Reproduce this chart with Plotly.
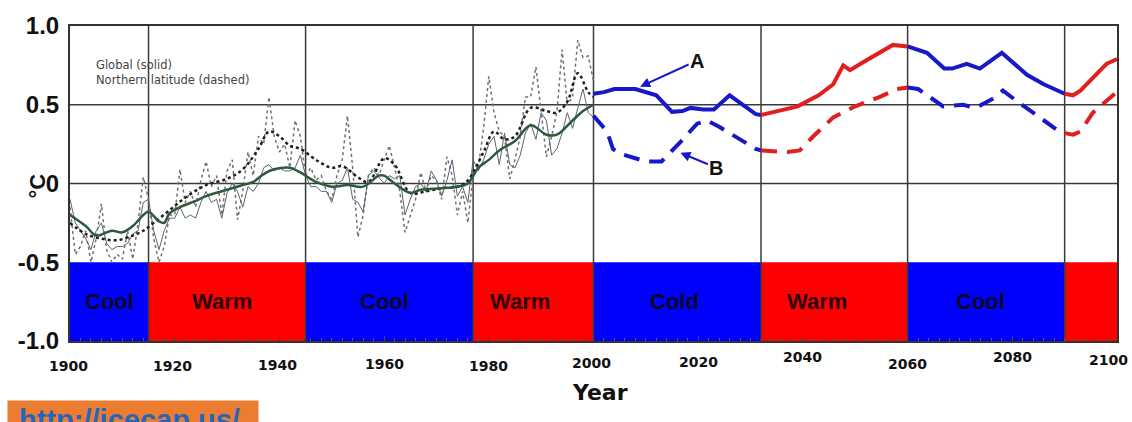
import plotly.graph_objects as go

# ---------------- data ----------------
years_annual = list(range(1900, 2001))
nh_annual = [-0.15, -0.45, -0.40, -0.30, -0.50, -0.35, -0.13, -0.42, -0.50, -0.45,
             -0.48, -0.30, -0.48, -0.25, 0.04, -0.10, -0.35, -0.50, -0.40, -0.20,
             -0.20, 0.09, -0.12, -0.05, -0.15, 0.02, 0.14, -0.02, 0.05, -0.20,
             0.08, 0.15, -0.23, -0.05, 0.20, 0.05, 0.30, 0.25, 0.55, 0.30,
             0.20, 0.25, 0.10, 0.40, 0.30, 0.05, 0.10, 0.02, 0.05, -0.05,
             -0.10, 0.05, 0.15, 0.43, 0.10, -0.34, -0.20, 0.05, 0.10, 0.05,
             0.15, 0.24, 0.10, -0.05, -0.31, -0.20, -0.10, 0.07, -0.05, 0.05,
             0.02, -0.10, 0.17, 0.05, -0.20, -0.05, -0.25, 0.05, 0.10, 0.35,
             0.68, 0.45, 0.33, 0.30, 0.03, 0.15, 0.30, 0.55, 0.55, 0.74,
             0.45, 0.17, 0.30, 0.45, 0.85, 0.50, 0.55, 0.91, 0.80, 0.81, 0.65]
global_annual = [-0.10, -0.25, -0.30, -0.35, -0.42, -0.30, -0.25, -0.38, -0.42, -0.40,
                 -0.40, -0.38, -0.32, -0.30, -0.12, -0.10, -0.30, -0.42, -0.30, -0.22,
                 -0.22, -0.15, -0.22, -0.20, -0.22, -0.12, -0.05, -0.12, -0.10, -0.22,
                 -0.06, 0.00, -0.05, -0.15, -0.02, -0.05, 0.00, 0.10, 0.12, 0.08,
                 0.10, 0.08, 0.08, 0.10, 0.18, 0.05, -0.02, -0.02, -0.05, -0.05,
                 -0.12, 0.00, 0.02, 0.10, -0.10, -0.12, -0.18, 0.05, 0.08, 0.04,
                 0.00, 0.05, 0.03, 0.05, -0.20, -0.10, -0.02, 0.00, -0.05, 0.08,
                 0.02, -0.08, 0.02, 0.15, -0.08, -0.02, -0.12, 0.15, 0.08, 0.15,
                 0.25, 0.30, 0.12, 0.32, 0.12, 0.10, 0.18, 0.32, 0.38, 0.28,
                 0.45, 0.40, 0.18, 0.22, 0.32, 0.45, 0.35, 0.48, 0.60, 0.45, 0.42]

nh_smooth_years = [1900, 1903, 1906, 1909, 1912, 1914, 1916, 1919, 1922, 1926, 1930, 1933,
                   1936, 1938, 1940, 1942, 1944, 1947, 1950, 1952, 1955, 1957, 1960, 1962,
                   1965, 1968, 1971, 1974, 1976, 1979, 1981, 1983, 1985, 1988, 1991, 1993,
                   1995, 1997, 1999, 2000]
nh_smooth = [-0.25, -0.32, -0.35, -0.36, -0.33, -0.30, -0.25, -0.17, -0.09, -0.01, 0.03, 0.09,
             0.22, 0.33, 0.30, 0.24, 0.22, 0.15, 0.10, 0.11, 0.04, 0.01, 0.16, 0.12,
             -0.06, -0.05, -0.03, -0.02, 0.02, 0.20, 0.33, 0.28, 0.30, 0.48, 0.46, 0.45,
             0.52, 0.70, 0.58, 0.55]

gl_smooth_years = [1900, 1903, 1905, 1908, 1910, 1912, 1914, 1915, 1917, 1918, 1919, 1921,
                   1924, 1926, 1930, 1933, 1935, 1937, 1939, 1942, 1944, 1947, 1950, 1953,
                   1956, 1959, 1960, 1962, 1965, 1967, 1971, 1974, 1976, 1978, 1980, 1982,
                   1985, 1988, 1991, 1993, 1996, 1998, 2000]
gl_smooth = [-0.20, -0.27, -0.33, -0.30, -0.31, -0.27, -0.20, -0.18, -0.24, -0.25, -0.19, -0.15,
             -0.11, -0.08, -0.04, -0.01, 0.01, 0.06, 0.09, 0.10, 0.07, 0.01, -0.02, -0.01,
             -0.02, 0.05, 0.05, 0.00, -0.06, -0.04, -0.03, -0.02, 0.00, 0.10, 0.15, 0.21,
             0.27, 0.37, 0.31, 0.31, 0.40, 0.46, 0.50]

# Projection A (solid)
a_blue1_years = [2000, 2002, 2004, 2008, 2012, 2015, 2017, 2018.5, 2021, 2023, 2026, 2031, 2032]
a_blue1 = [0.57, 0.58, 0.60, 0.60, 0.56, 0.455, 0.46, 0.48, 0.47, 0.47, 0.56, 0.44, 0.435]
a_red1_years = [2032, 2034, 2036, 2039, 2043, 2045.8, 2047.7, 2049, 2051.5, 2054.7, 2057.2, 2060]
a_red1 = [0.435, 0.45, 0.47, 0.49, 0.56, 0.63, 0.75, 0.72, 0.77, 0.83, 0.88, 0.87]
a_blue2_years = [2060, 2063.7, 2067, 2068.5, 2071.3, 2073.8, 2078, 2082.8, 2086, 2090]
a_blue2 = [0.87, 0.83, 0.73, 0.73, 0.76, 0.73, 0.83, 0.69, 0.63, 0.57]
a_red2_years = [2090, 2091.6, 2093, 2095.4, 2098, 2100]
a_red2 = [0.57, 0.56, 0.59, 0.67, 0.76, 0.79]

# Projection B (dashed)
b_blue1_years = [2000, 2002.6, 2003.7, 2005, 2010, 2013, 2016.5, 2019.8, 2021.7, 2024, 2031, 2032]
b_blue1 = [0.43, 0.33, 0.22, 0.19, 0.14, 0.14, 0.26, 0.38, 0.40, 0.36, 0.22, 0.21]
b_red1_years = [2032, 2037, 2039.4, 2042, 2045.8, 2050, 2054.7, 2058, 2060]
b_red1 = [0.21, 0.20, 0.21, 0.30, 0.42, 0.49, 0.55, 0.60, 0.61]
b_blue2_years = [2060, 2062, 2066.8, 2070.6, 2073, 2076.4, 2078.2, 2081, 2089, 2090]
b_blue2 = [0.61, 0.60, 0.49, 0.50, 0.48, 0.54, 0.59, 0.52, 0.33, 0.32]
b_red2_years = [2090, 2091.6, 2093, 2095.4, 2099.6, 2100]
b_red2 = [0.32, 0.31, 0.33, 0.45, 0.57, 0.58]

# Climate phases
phase_start = [1900, 1915, 1945, 1977, 2000, 2032, 2060, 2090]
phase_end = [1915, 1945, 1977, 2000, 2032, 2060, 2090, 2100]
phase_kind = ["cool", "warm", "cool", "warm", "cool", "warm", "cool", "warm"]
phase_label = ["Cool", "Warm", "Cool", "Warm", "Cold", "Warm", "Cool", ""]
phase_label_x = [1907.5, 1929.0, 1960.0, 1986.0, 2015.5, 2042.7, 2074.0, 2095.0]

x_tick_years = [1900, 1920, 1940, 1960, 1980, 2000, 2020, 2040, 2060, 2080, 2100]
x_tick_ypix = [366, 366, 365, 364, 366, 363, 362, 357, 364, 357, 360]
x_tick_xshift = [-2, -2, -2, 0, 0, -2, 0, 0, 0, 0, -9]
y_tick_vals = [-1.0, -0.5, 0.0, 0.5, 1.0]
y_tick_text = ["-1.0", "-0.5", "0", "0.5", "1.0"]

# ---------------- figure ----------------
W, H = 1132, 422
ML, MR, MT, MB = 70, 15, 26, 81
PW, PH = W - ML - MR, H - MT - MB


def py(ypix):
    return (H - MB - ypix) / PH


def px(xpix):
    return (xpix - ML) / PW


BLUE_FILL = "#0000FF"
RED_FILL = "#FF0000"
BLUE_LINE = "#1818C8"
RED_LINE = "#E21E1E"

fig = go.Figure()

# phase bands
for s, e, k in zip(phase_start, phase_end, phase_kind):
    fig.add_shape(type="rect", xref="x", yref="y", x0=s, x1=e, y0=-1.0, y1=-0.5,
                  fillcolor=BLUE_FILL if k == "cool" else RED_FILL,
                  line=dict(width=0), layer="below")

# vertical boundary lines
for s in phase_start[1:]:
    fig.add_shape(type="line", xref="x", yref="y", x0=s, x1=s, y0=-1.0, y1=1.0,
                  line=dict(color="#3a3a3a", width=1.5), layer="below")
# horizontal grid lines
for v in [0.5, 0.0]:
    fig.add_shape(type="line", xref="x", yref="y", x0=1900, x1=2100, y0=v, y1=v,
                  line=dict(color="#3a3a3a", width=1.5), layer="below")

# historical series
fig.add_trace(go.Scatter(x=years_annual, y=nh_annual, mode="lines",
                         line=dict(color="#707070", width=1.5, dash="dot"), showlegend=False))
fig.add_trace(go.Scatter(x=years_annual, y=global_annual, mode="lines",
                         line=dict(color="#5a6478", width=1), showlegend=False))
fig.add_trace(go.Scatter(x=nh_smooth_years, y=nh_smooth, mode="lines",
                         line=dict(color="#1e1e1e", width=2.5, dash="dot", shape="spline"),
                         showlegend=False))
fig.add_trace(go.Scatter(x=gl_smooth_years, y=gl_smooth, mode="lines",
                         line=dict(color="#2d5a3c", width=2.5, shape="spline"), showlegend=False))

# projections
solid = [(a_blue1_years, a_blue1, BLUE_LINE), (a_red1_years, a_red1, RED_LINE),
         (a_blue2_years, a_blue2, BLUE_LINE), (a_red2_years, a_red2, RED_LINE)]
for xs, ys, c in solid:
    fig.add_trace(go.Scatter(x=xs, y=ys, mode="lines", line=dict(color=c, width=4),
                             showlegend=False))
dashed = [(b_blue1_years, b_blue1, BLUE_LINE), (b_red1_years, b_red1, RED_LINE),
          (b_blue2_years, b_blue2, BLUE_LINE), (b_red2_years, b_red2, RED_LINE)]
for xs, ys, c in dashed:
    fig.add_trace(go.Scatter(x=xs, y=ys, mode="lines",
                             line=dict(color=c, width=4, dash="16px,10px"), showlegend=False))

ann = []
# phase labels
for lx, lab, k in zip(phase_label_x, phase_label, phase_kind):
    if lab:
        ann.append(dict(x=lx, y=-0.75, xref="x", yref="y", text="<b>" + lab + "</b>",
                        showarrow=False,
                        font=dict(family="Liberation Sans, Arial", size=22,
                                  color="#0a0a22" if k == "cool" else "#2a0505")))
# x tick labels
for yr, yp, xs in zip(x_tick_years, x_tick_ypix, x_tick_xshift):
    ann.append(dict(x=yr, y=py(yp), xref="x", yref="paper", text="<b>" + str(yr) + "</b>",
                    showarrow=False, yanchor="middle", xshift=xs,
                    font=dict(family="DejaVu Sans", size=14, color="#111")))
# axis titles
ann.append(dict(x=px(600), y=py(407), xref="paper", yref="paper", text="<b>Year</b>",
                showarrow=False, font=dict(family="DejaVu Sans", size=22, color="#111")))
ann.append(dict(x=px(22), y=py(186), xref="paper", yref="paper", text="<b>°C</b>",
                showarrow=False, textangle=-90,
                font=dict(family="Liberation Sans, Arial", size=22, color="#111")))
# legend text
ann.append(dict(x=px(94), y=py(72), xref="paper", yref="paper",
                text="Global (solid)<br>Northern latitude (dashed)", showarrow=False,
                xanchor="left", yanchor="middle", align="left",
                font=dict(family="DejaVu Sans", size=11.5, color="#444")))
# A / B pointers
ann.append(dict(x=2008.9, y=0.615, xref="x", yref="y", text="<b>A</b>", ax=57, ay=-26,
                showarrow=True, arrowhead=2, arrowsize=1, arrowwidth=2, arrowcolor=BLUE_LINE,
                font=dict(family="Liberation Sans, Arial", size=20, color="#111")))
ann.append(dict(x=2016.6, y=0.195, xref="x", yref="y", text="<b>B</b>", ax=36, ay=15,
                showarrow=True, arrowhead=2, arrowsize=1, arrowwidth=2, arrowcolor=BLUE_LINE,
                font=dict(family="Liberation Sans, Arial", size=20, color="#111")))
# source banner (cut off at the bottom edge like the original)
ann.append(dict(x=px(7), y=py(400), xref="paper", yref="paper",
                text="<b>\u00a0http://icecap.us/</b>", showarrow=False, xanchor="left",
                yanchor="top", align="left", width=244, height=44, valign="top",
                bgcolor="#EC7C30", borderpad=3,
                font=dict(family="Liberation Sans, Arial", size=29, color="#2366c0")))

fig.update_layout(
    width=W, height=H,
    margin=dict(l=ML, r=MR, t=MT, b=MB),
    paper_bgcolor="white", plot_bgcolor="white",
    annotations=ann,
    xaxis=dict(range=[1900, 2100], showgrid=False, zeroline=False, showticklabels=False,
               showline=True, mirror=True, linecolor="#333", linewidth=2,
               tickmode="array", tickvals=x_tick_years, ticks="inside", ticklen=5,
               tickcolor="#444",
               minor=dict(dtick=2, ticks="inside", ticklen=3, tickcolor="#555")),
    yaxis=dict(range=[-1, 1], showgrid=False, zeroline=False,
               showline=True, mirror=True, linecolor="#333", linewidth=2,
               tickmode="array", tickvals=y_tick_vals,
               ticktext=["<b>" + t + "</b>" for t in y_tick_text],
               tickfont=dict(family="Liberation Sans, Arial", size=24, color="#111"),
               ticks="", ticklabelstandoff=4),
)

fig.write_html("out.html", config={"displayModeBar": False},
               post_script="document.body.style.margin='0';document.body.style.overflow='hidden';")
